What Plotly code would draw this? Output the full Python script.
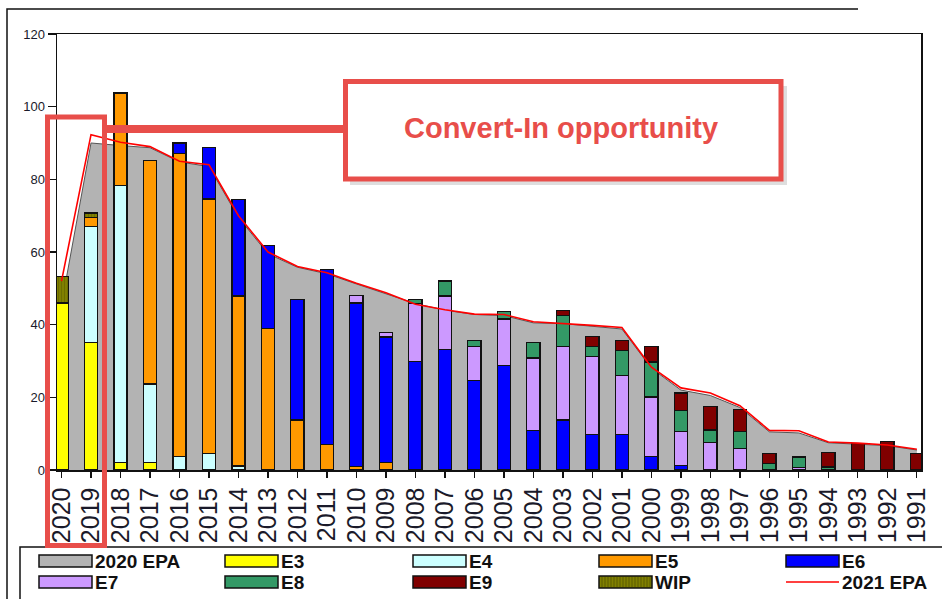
import plotly.graph_objects as go

# ---------------- data ----------------
years = ["2020", "2019", "2018", "2017", "2016", "2015", "2014", "2013", "2012", "2011",
         "2010", "2009", "2008", "2007", "2006", "2005", "2004", "2003", "2002", "2001",
         "2000", "1999", "1998", "1997", "1996", "1995", "1994", "1993", "1992", "1991"]
N = None
epa_2020 = [45.5, 90, 89.3, 88.7, 84.8, 83.5, 69.5, 59.5, 55.8, 54, 51.2, 48.5, 45.8, 44, 42.8,
            42.5, 40.5, 40.3, 39.5, 38.8, 28, 22, 20.5, 17.2, 10.5, 10.2, 7.5, 7.2, 6.7, 5.5]
epa_2021 = [52, 92.3, 90.2, 89, 85, 84, 70, 60, 56, 54.3, 51.4, 48.8, 45.6, 44.1, 42.9,
            42.8, 40.8, 40.4, 39.8, 39.2, 28.3, 22.6, 21.2, 17.7, 10.9, 10.8, 7.7, 7.4, 6.9, 5.7]
E3 = [46, 35, 2, 2, N, N, N, N, N, N, N, N, N, N, N, N, N, N, N, N, N, N, N, N, N, N, N, N, N, N]
E4 = [N, 32, 76.3, 21.7, 3.7, 4.6, 1.1, N, N, N, N, N, N, N, N, N, N, N, N, N, N, N, N, N, N, N, N, N, N, N]
E5 = [N, 2.5, 25.5, 61.5, 83.5, 70, 46.8, 39, 13.8, 7.1, 1, 2, N, N, N, N, N, N, N, N, N, N, N, N, N, N, N, N, N, N]
E6 = [N, N, N, N, 2.8, 14.2, 26.5, 22.8, 33.2, 48, 45, 34.6, 29.9, 33.1, 24.7, 28.8, 10.8, 13.8, 9.7, 9.7,
      3.7, 1.2, N, N, N, N, N, N, N, N]
E7 = [N, N, N, N, N, N, N, N, N, N, 2, 1.2, 16, 14.8, 9.2, 12.8, 20, 20.1, 21.6, 16.4,
      16.4, 9.4, 7.6, 6, N, 0.7, N, N, N, N]
E8 = [N, N, N, N, N, N, N, N, N, N, N, N, 1.1, 4.1, 1.7, 2.1, 4.2, 8.7, 2.6, 6.8,
      9.6, 5.7, 3.4, 4.6, 1.8, 2.9, 0.8, N, N, N]
E9 = [N, N, N, N, N, N, N, N, N, N, N, N, N, N, N, N, N, 1.3, 2.8, 2.7,
      4.2, 4.9, 6.5, 6, 2.8, N, 4, 7.2, 7.8, 4.6]
WIP = [7.2, 1.2, N, N, N, N, N, N, N, N, N, N, N, N, N, N, N, N, N, N, N, N, N, N, N, N, N, N, N, N]

y_ticks = [0, 20, 40, 60, 80, 100, 120]

series_names = ["E3", "E4", "E5", "E6", "E7", "E8", "E9", "WIP"]
series_vals = [E3, E4, E5, E6, E7, E8, E9, WIP]
series_cols = ["#FFFF00", "#CCFFFF", "#FF9900", "#0000FF", "#CC99FF", "#339966", "#800000", "#808000"]
AREA_COL = "#B3B3B3"
LINE_COL = "#FF0000"
RED = "#E84E4A"
FONT = "Liberation Sans, Arial, sans-serif"

# ---------------- figure ----------------
fig = go.Figure()

fig.add_trace(go.Scatter(x=years, y=epa_2020, name="2020 EPA", mode="lines",
                         fill="tozeroy", fillcolor=AREA_COL,
                         line=dict(color="#555555", width=1), xaxis="x", yaxis="y"))

for nm, vals, col in zip(series_names, series_vals, series_cols):
    marker = dict(color=col, line=dict(color="#111111", width=1.3))
    if nm == "WIP":
        marker["pattern"] = dict(shape="|", fgcolor="#5a5a00", size=3, solidity=0.35)
    fig.add_trace(go.Bar(x=years, y=vals, name=nm, marker=marker, width=0.45,
                         xaxis="x2", yaxis="y2"))

fig.add_trace(go.Scatter(x=years, y=epa_2021, name="2021 EPA", mode="lines",
                         line=dict(color=LINE_COL, width=1.6), xaxis="x3", yaxis="y3"))

XR = [-0.153, 29.14]
YR = [0, 120]
L, R, T, B = 57, 921, 34, 470
W, H = R - L, B - T


def px(x):
    return (x - L) / W


def py(y):
    return (B - y) / H


hidden_x = dict(type="category", categoryarray=years, categoryorder="array", range=XR,
                visible=False, overlaying="x")
hidden_y = dict(range=YR, visible=False, overlaying="y")

fig.update_layout(
    width=942, height=599, autosize=False,
    margin=dict(l=L, r=942 - R, t=T, b=599 - B),
    paper_bgcolor="white", plot_bgcolor="white",
    showlegend=False, barmode="stack", hovermode=False,
    font=dict(family=FONT, color="#111111"),
    xaxis=dict(type="category", categoryarray=years, categoryorder="array", range=XR,
               tickmode="array", tickvals=years, ticktext=years,
               showline=True, mirror=True, linecolor="#111111", linewidth=1.5,
               ticks="outside", ticklen=6, tickcolor="#111111", tickwidth=1.2,
               tickangle=-90, tickfont=dict(size=25, color="#1a1a2a", family=FONT),
               showgrid=False, zeroline=False, automargin=False),
    yaxis=dict(range=YR, tickvals=y_ticks, showline=True, mirror=True,
               linecolor="#111111", linewidth=1.5, ticks="outside", ticklen=8,
               tickcolor="#111111", tickwidth=1.2,
               tickfont=dict(size=13, color="#1a1a2a", family=FONT),
               showgrid=False, zeroline=False, automargin=False),
    xaxis2=hidden_x, yaxis2=hidden_y,
    xaxis3=dict(hidden_x), yaxis3=dict(hidden_y),
)

shapes = []
# outer frame of the slide
shapes.append(dict(type="path", xref="paper", yref="paper",
                   path=f"M {px(7)},{py(620)} L {px(7)},{py(9)} L {px(858)},{py(9)}",
                   line=dict(color="#111111", width=1.5)))
# legend box
shapes.append(dict(type="rect", xref="paper", yref="paper", x0=px(20), x1=px(960),
                   y0=py(620), y1=py(547), line=dict(color="#111111", width=1.5),
                   fillcolor="white"))

# custom legend (wide swatches as in the original)
leg_names = ["2020 EPA"] + series_names + ["2021 EPA"]
leg_cols = [AREA_COL] + series_cols + [LINE_COL]
col_x = [39, 225, 413, 599, 786]
row_y = [561, 582]
annotations = []
for i, (nm, col) in enumerate(zip(leg_names, leg_cols)):
    cx = col_x[i % 5]
    ry = row_y[i // 5]
    if nm == "2021 EPA":
        shapes.append(dict(type="line", xref="paper", yref="paper", x0=px(cx), x1=px(cx + 53),
                           y0=py(ry), y1=py(ry), line=dict(color=col, width=1.6)))
    else:
        shapes.append(dict(type="rect", xref="paper", yref="paper", x0=px(cx), x1=px(cx + 53),
                           y0=py(ry + 6), y1=py(ry - 6), fillcolor=col,
                           line=dict(color="#111111", width=1.5)))
        if nm == "WIP":
            segs = " ".join(f"M {px(xx)},{py(ry + 5)} L {px(xx)},{py(ry - 5)}"
                            for xx in range(cx + 3, cx + 52, 3))
            shapes.append(dict(type="path", xref="paper", yref="paper", path=segs,
                               line=dict(color="#5a5a00", width=1)))
    annotations.append(dict(xref="paper", yref="paper", x=px(cx + 54), y=py(ry),
                            xanchor="left", yanchor="middle", showarrow=False, text=nm,
                            font=dict(size=19, family=FONT, color="#111111", weight="bold")))

# highlight rectangle around 2020/2019
shapes.append(dict(type="rect", xref="paper", yref="paper", x0=px(47.5), x1=px(104.5),
                   y0=py(545.5), y1=py(117), line=dict(color=RED, width=5)))
# connector
shapes.append(dict(type="line", xref="paper", yref="paper", x0=px(104), x1=px(346),
                   y0=py(129), y1=py(129), line=dict(color=RED, width=8)))
# callout shadow + box
shapes.append(dict(type="rect", xref="paper", yref="paper", x0=px(350), x1=px(787),
                   y0=py(185), y1=py(86), fillcolor="rgba(0,0,0,0.13)", line=dict(width=0)))
shapes.append(dict(type="rect", xref="paper", yref="paper", x0=px(345.5), x1=px(781),
                   y0=py(179), y1=py(81.5), fillcolor="white", line=dict(color=RED, width=5)))

annotations.append(dict(xref="paper", yref="paper", x=px(561), y=py(128),
                        xanchor="center", yanchor="middle", showarrow=False,
                        text="Convert-In opportunity",
                        font=dict(size=29, family=FONT, color=RED, weight="bold")))

fig.update_layout(shapes=shapes, annotations=annotations)
fig.write_html("out.html", config={"displayModeBar": False, "staticPlot": True},
               post_script="document.body.style.margin='0';document.body.style.overflow='hidden';")
